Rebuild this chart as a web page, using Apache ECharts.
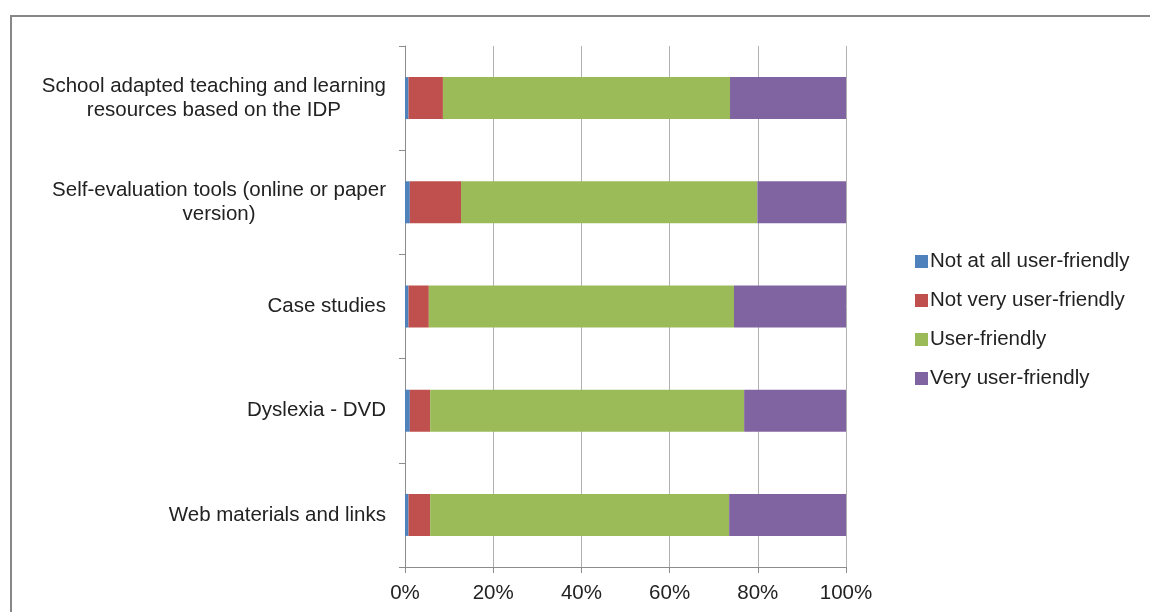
<!DOCTYPE html>
<html>
<head>
<meta charset="utf-8">
<script src="https://cdn.jsdelivr.net/npm/echarts@6/dist/echarts.min.js"></script>
<style>
html,body{margin:0;padding:0;background:#fff;}
#chart{width:1150px;height:612px;}
</style>
</head>
<body>
<div id="chart"></div>
<script>
const categories = [
  "School adapted teaching and learning\nresources based on the IDP",
  "Self-evaluation tools (online or paper\nversion)",
  "Case studies",
  "Dyslexia - DVD",
  "Web materials and links"
];
const seriesNames = ["Not at all user-friendly", "Not very user-friendly", "User-friendly", "Very user-friendly"];
const notAtAll   = [0.8, 1.1, 0.8, 1.1, 0.8];
const notVery    = [7.8, 11.6, 4.6, 4.6, 4.9];
const userFriendly = [65.1, 67.2, 69.2, 71.2, 67.8];
const veryUser   = [26.3, 20.1, 25.4, 23.1, 26.5];
const xTicks = [0, 20, 40, 60, 80, 100];
const colors = ["#4F81BD", "#C0504D", "#9BBB59", "#8064A2"];

const values = [notAtAll, notVery, userFriendly, veryUser];
const chart = echarts.init(document.getElementById('chart'));
const font = "'Liberation Sans', Arial, sans-serif";
const fs = 20.5;

chart.setOption({
  animation: false,
  backgroundColor: '#fff',
  graphic: [{
    type: 'rect',
    shape: {x: 11, y: 16, width: 1200, height: 700},
    style: {fill: 'none', stroke: '#878787', lineWidth: 2},
    silent: true
  }],
  grid: {left: 405, right: 304, top: 46, bottom: 45, containLabel: false},
  legend: {
    orient: 'vertical',
    left: 915,
    top: 251,
    padding: 0,
    itemWidth: 13,
    itemHeight: 13,
    itemGap: 18,
    icon: 'rect',
    data: seriesNames,
    textStyle: {fontFamily: font, fontSize: fs, color: '#222', lineHeight: 21, padding: [0, 0, 0, -3]}
  },
  xAxis: {
    type: 'value',
    min: xTicks[0],
    max: xTicks[xTicks.length - 1],
    interval: 20,
    axisLine: {show: true, lineStyle: {color: '#8c8c8c', width: 1}},
    axisTick: {show: true, length: 6, lineStyle: {color: '#8c8c8c'}},
    splitLine: {show: true, lineStyle: {color: '#b0b0b0', width: 1}},
    axisLabel: {formatter: '{value}%', fontFamily: font, fontSize: fs, color: '#222', margin: 16}
  },
  yAxis: {
    type: 'category',
    inverse: true,
    data: categories,
    axisLine: {show: true, lineStyle: {color: '#8c8c8c', width: 1}},
    axisTick: {show: true, length: 6, lineStyle: {color: '#8c8c8c'}},
    splitLine: {show: false},
    axisLabel: {
      fontFamily: font, fontSize: fs, color: '#222', margin: 19, lineHeight: 24,
      align: 'right',
      formatter: function (v) { return v.split('\n').map(function (l) { return '{c|' + l + '}'; }).join('\n'); },
      rich: {c: {align: 'center', fontFamily: font, fontSize: fs, color: '#222', lineHeight: 24}}
    }
  },
  series: seriesNames.map(function (name, i) {
    return {
      name: name,
      type: 'bar',
      stack: 'total',
      barWidth: 42,
      itemStyle: {color: colors[i]},
      data: values[i]
    };
  })
});
</script>
</body>
</html>
